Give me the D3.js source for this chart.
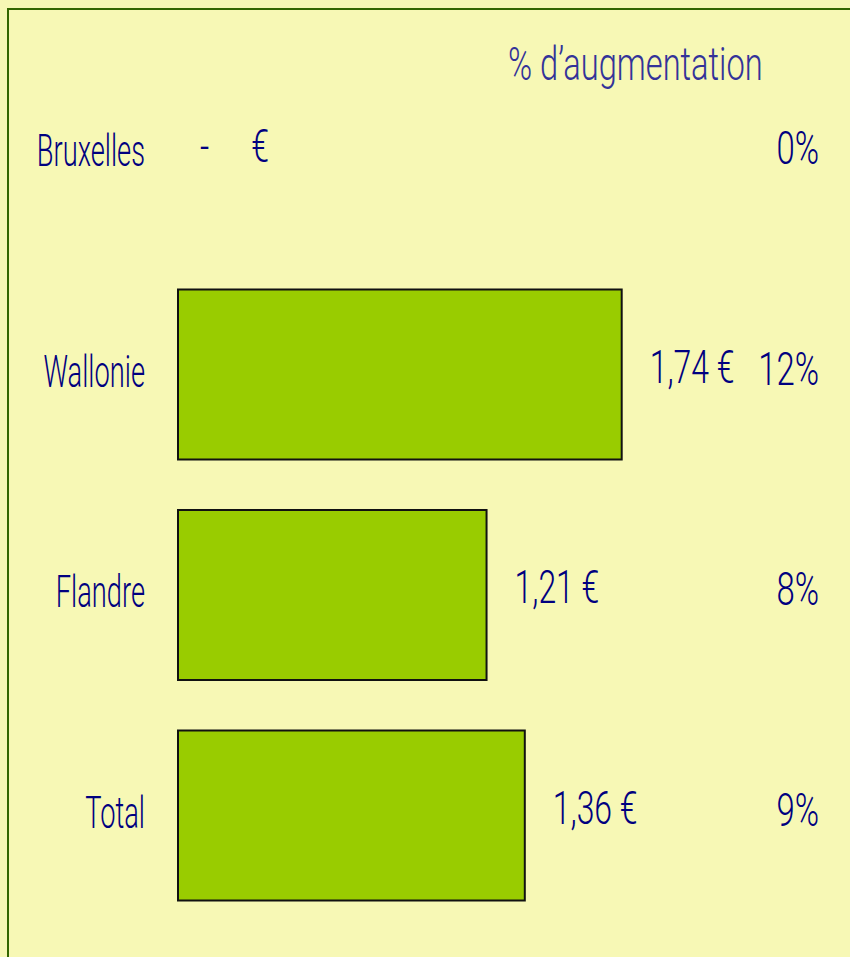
<!DOCTYPE html>
<html><head><meta charset="utf-8">
<script src="https://cdn.jsdelivr.net/npm/d3@7"></script>
<style>
html,body{margin:0;padding:0;background:#F7F8B5;}
svg{display:block;}
text{font-family:Roboto,"Liberation Sans",Arial,sans-serif;font-weight:300;}
</style></head>
<body>
<script>
const categories = ["Bruxelles", "Wallonie", "Flandre", "Total"];
const amounts = [0, 1.74, 1.21, 1.36];
const increases = [0, 0.12, 0.08, 0.09];
const headerLabel = "% d’augmentation";

const W = 850, H = 957;
const svg = d3.select("body").append("svg").attr("width", W).attr("height", H);

svg.append("rect").attr("x",0).attr("y",0).attr("width",W).attr("height",H).attr("fill","#F7F8B5");
svg.append("rect").attr("x",8).attr("y",9).attr("width",W+10).attr("height",H+10)
  .attr("fill","none").attr("stroke","#336600").attr("stroke-width",2);

const x = d3.scaleLinear().domain([0, 2]).range([178, 688]);
const y = d3.scaleBand().domain(categories).range([43.75, 925.75]).paddingInner(0.229).paddingOuter(0.1145);

const fr = d3.formatLocale({decimal:",", thousands:" ", grouping:[3], currency:["", " €"]});
const fmtVal = fr.format(",.2f");
const fmtPct = d3.format(".0%");

const data = categories.map((c,i)=>({cat:c, v:amounts[i], p:increases[i]}));

// bars
svg.selectAll("rect.bar").data(data.filter(d=>d.v>0)).join("rect")
  .attr("class","bar")
  .attr("x", x(0)).attr("y", d=>y(d.cat))
  .attr("width", d=>x(d.v)-x(0)).attr("height", y.bandwidth())
  .attr("fill","#99CC00").attr("stroke","#111").attr("stroke-width",2);

const cy = d => y(d.cat) + y.bandwidth()/2;

// category labels
svg.selectAll("text.cat").data(data).join("text")
  .attr("class","cat")
  .attr("transform", d=>`translate(145,${cy(d)+12}) scale(0.62,1)`)
  .attr("text-anchor","end").attr("font-size",44).attr("fill","#000080")
  .text(d=>d.cat);

// value labels
const vl = svg.selectAll("text.val").data(data).join("text")
  .attr("class","val")
  .attr("transform", d=>`translate(${x(d.v)+ (d.v>0?28:22)},${cy(d)+8}) scale(0.68,1)`)
  .attr("font-size",47).attr("fill","#000080");
vl.filter(d=>d.v>0).text(d=>fmtVal(d.v)+" €");
vl.filter(d=>d.v===0).each(function(){
  const t = d3.select(this);
  t.append("tspan").text("-");
  t.append("tspan").attr("dx",62).text("€");
});

// percent labels
svg.selectAll("text.pct").data(data).join("text")
  .attr("class","pct")
  .attr("transform", d=>`translate(819,${cy(d)+10}) scale(0.70,1)`)
  .attr("text-anchor","end").attr("font-size",47).attr("fill","#000080")
  .text(d=>fmtPct(d.p));

// header
svg.append("text")
  .attr("transform","translate(508,80) scale(0.71,1)")
  .attr("font-size",46).attr("fill","#333399")
  .text(headerLabel);
</script>
</body></html>
